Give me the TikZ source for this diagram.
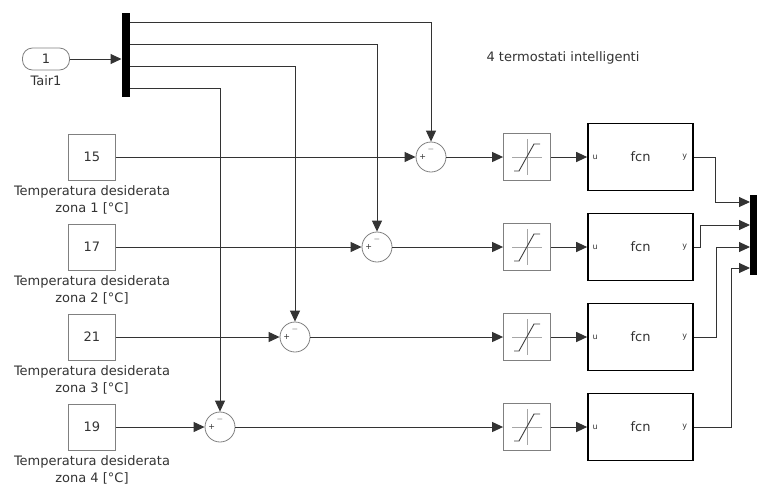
\documentclass[tikz,border=0pt]{standalone}
\usepackage{fontspec}
\setmainfont{DejaVu Sans}
\usetikzlibrary{arrows.meta,positioning}

\begin{document}
\begin{tikzpicture}[x=1pt,y=-1pt,->,>={Triangle[length=11pt,width=10pt]},line width=1pt,color=black!80,font=\fontsize{13}{17}\selectfont]
	\tikzstyle{inport}=[draw=gray,line width=0.8pt,rounded corners=10pt,minimum width=47pt,minimum height=22pt,inner sep=0pt]
	\tikzstyle{const}=[draw=gray,line width=0.8pt,minimum width=47pt,minimum height=46pt,inner sep=0pt]
	\tikzstyle{port}=[font=\fontsize{8}{9}\selectfont,inner sep=1pt]
	\tikzstyle{sum}=[circle,draw=gray,line width=0.8pt,minimum size=30pt,inner sep=0pt,
		label={[port,label distance=-12pt]west:+},label={[port,label distance=-12pt]north:$-$}]
	\tikzstyle{sat}=[draw=gray,line width=0.8pt,minimum size=47pt,inner sep=0pt,
		path picture={
			\draw[-,gray!70,line width=0.6pt,shift={(path picture bounding box.center)}] (-15,0) -- (15,0) (0,-18) -- (0,18);
			\draw[-,black!75,line width=0.9pt,shift={(path picture bounding box.center)}] (-13,14) -- (-8,14) -- (7,-13) -- (13,-13);
		}]
	\tikzstyle{fcnbox}=[draw=black,line width=1.6pt,minimum width=105pt,minimum height=67pt,inner sep=0pt,
		label={[port,label distance=-12pt]west:u},label={[port,label distance=-13pt]east:y}]
	\tikzstyle{bus}=[fill=black,inner sep=0pt,minimum width=8pt]
	\tikzstyle{lbl}=[align=center,inner sep=0pt]

	\useasboundingbox (0,0) rectangle (757,488);

	\node[inport]             (inp)   at (46,59)   {1};
	\node[lbl]                (tair)  at (46,81)   {Tair1};
	\node[bus,minimum height=84pt] (mux) at (126,55) {};
	\node[lbl]                (title) at (563,58)  {4 termostati intelligenti};

	\node[const]              (c1)    at (92,157)  {15};
	\node[const]              (c2)    at (92,247)  {17};
	\node[const]              (c3)    at (92,337)  {21};
	\node[const]              (c4)    at (92,427)  {19};
	\node[lbl] (t1) [below=5pt of c1] {Temperatura desiderata\\zona 1 [°C]};
	\node[lbl] (t2) [below=5pt of c2] {Temperatura desiderata\\zona 2 [°C]};
	\node[lbl] (t3) [below=5pt of c3] {Temperatura desiderata\\zona 3 [°C]};
	\node[lbl] (t4) [below=5pt of c4] {Temperatura desiderata\\zona 4 [°C]};

	\node[sum]                (s1)    at (431,157) {};
	\node[sum]                (s2)    at (377,247) {};
	\node[sum]                (s3)    at (295,337) {};
	\node[sum]                (s4)    at (220,427) {};

	\node[sat]                (sat1)  at (527,157) {};
	\node[sat]                (sat2)  at (527,247) {};
	\node[sat]                (sat3)  at (527,337) {};
	\node[sat]                (sat4)  at (527,427) {};

	\node[fcnbox]             (f1)    at (640.5,157) {fcn};
	\node[fcnbox]             (f2)    at (640.5,247) {fcn};
	\node[fcnbox]             (f3)    at (640.5,337) {fcn};
	\node[fcnbox]             (f4)    at (640.5,427) {fcn};

	\node[bus,minimum height=80pt] (demux) at (754,235) {};

	% uscite del bus Tair
	\coordinate (m1) at (130,22);
	\coordinate (m2) at (130,44);
	\coordinate (m3) at (130,66);
	\coordinate (m4) at (130,88);
	% ingressi del bus finale
	\coordinate (d1) at (750,202);
	\coordinate (d2) at (750,225);
	\coordinate (d3) at (750,247);
	\coordinate (d4) at (750,268);

	\draw (inp) -- (inp.east -| mux.west);
	\draw (m1) -| (s1);
	\draw (m2) -| (s2);
	\draw (m3) -| (s3);
	\draw (m4) -| (s4);

	\draw (c1) -- (s1);
	\draw (c2) -- (s2);
	\draw (c3) -- (s3);
	\draw (c4) -- (s4);

	\draw (s1) -- (sat1);
	\draw (s2) -- (sat2);
	\draw (s3) -- (sat3);
	\draw (s4) -- (sat4);

	\draw (sat1) -- (f1);
	\draw (sat2) -- (f2);
	\draw (sat3) -- (f3);
	\draw (sat4) -- (f4);

	\draw (f1.east) -- ++(22,0) |- (d1);
	\draw (f2.east) -- ++(7,0)  |- (d2);
	\draw (f3.east) -- ++(23,0) |- (d3);
	\draw (f4.east) -- ++(38,0) |- (d4);
\end{tikzpicture}
\end{document}
